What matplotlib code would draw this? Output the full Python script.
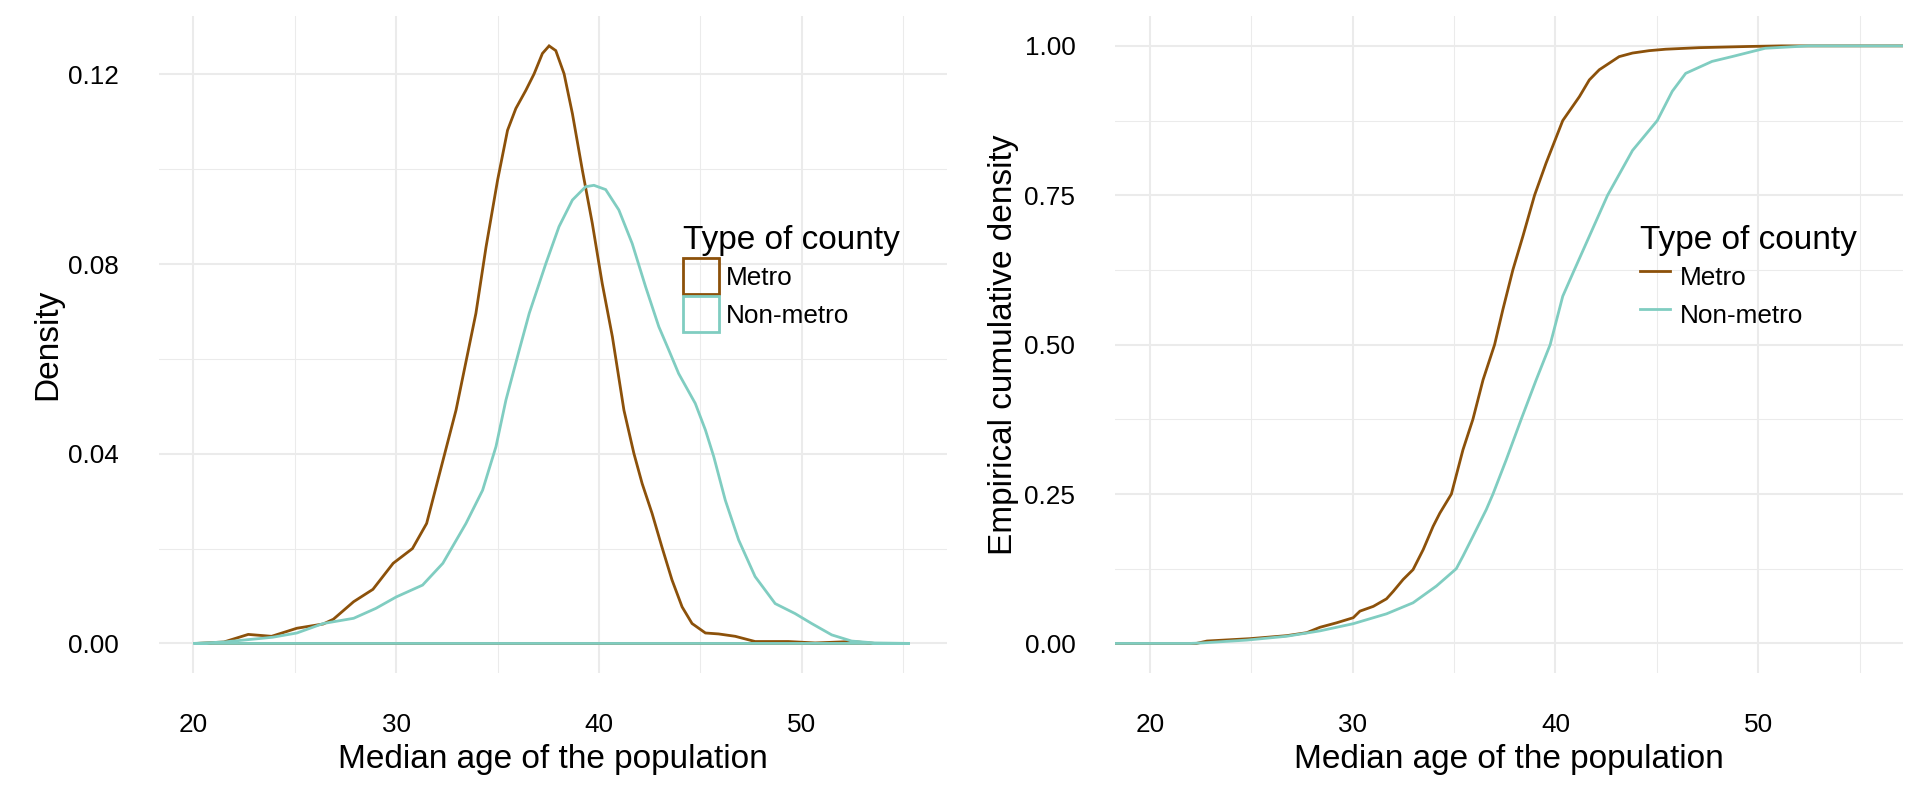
import matplotlib
matplotlib.use("Agg")
import matplotlib.pyplot as plt
from matplotlib.lines import Line2D
from matplotlib.patches import Patch

plt.rcParams["font.family"] = ["Liberation Sans", "DejaVu Sans"]

# colours for the two county types
metro_color = "#8c510a"
nonmetro_color = "#80cdc1"
groups = ["Metro", "Non-metro"]

# kernel density of median age
metro_age = [20.15, 21.5, 22.7, 23.85, 25.1, 26.4, 26.9, 27.9, 28.85, 29.85, 30.8,
             31.5, 32.1, 32.95, 33.93, 34.43, 35.0, 35.49, 35.9, 36.39, 36.8, 37.21,
             37.54, 37.87, 38.28, 38.69, 39.18, 39.67, 40.16, 40.66, 41.23, 41.72,
             42.13, 42.62, 43.1, 43.6, 44.1, 44.59, 45.25, 45.9, 46.72, 47.7, 49.34,
             50.66, 52.46, 53.6]
metro_dens = [0.0, 0.0003, 0.0019, 0.0015, 0.0032, 0.0041, 0.0051, 0.0088, 0.0114,
              0.0169, 0.0200, 0.0253, 0.0352, 0.0492, 0.0696, 0.0836, 0.0977, 0.1082,
              0.1128, 0.1166, 0.1201, 0.1244, 0.126, 0.125, 0.1201, 0.1117, 0.0998,
              0.0886, 0.0759, 0.0647, 0.0492, 0.0401, 0.0337, 0.0274, 0.0204, 0.0134,
              0.0077, 0.0042, 0.0022, 0.002, 0.0015, 0.0004, 0.0004, 0.0001, 0.0004, 0.0]

nonmetro_age = [20.0, 21.5, 23.9, 25.1, 26.4, 27.9, 29.0, 30.0, 31.3, 32.3, 33.44,
                34.26, 34.92, 35.41, 36.07, 36.56, 37.38, 38.03, 38.69, 39.34, 39.75,
                40.33, 40.98, 41.64, 42.3, 42.95, 43.44, 43.93, 44.75, 45.25, 45.66,
                46.23, 46.89, 47.7, 48.69, 49.67, 50.49, 51.48, 52.46, 53.6, 55.33]
nonmetro_dens = [0.0, 0.0003, 0.0013, 0.0022, 0.0042, 0.0053, 0.0074, 0.0098, 0.0123,
                 0.0169, 0.0253, 0.0323, 0.0415, 0.0513, 0.0619, 0.0696, 0.0801, 0.0879,
                 0.0935, 0.0963, 0.0966, 0.0957, 0.0914, 0.0843, 0.0752, 0.0668, 0.0619,
                 0.0569, 0.0506, 0.045, 0.0394, 0.0302, 0.0218, 0.0141, 0.0084, 0.0063,
                 0.0042, 0.0018, 0.0005, 0.0001, 0.0]

# empirical CDF
metro_ecdf_age = [22.3, 22.82, 24.95, 26.75, 27.74, 28.39, 29.21, 30.03, 30.36, 31.02,
                  31.67, 32.0, 32.49, 32.98, 33.48, 33.97, 34.3, 34.87, 35.44, 35.93,
                  36.43, 37.0, 37.41, 37.9, 38.4, 38.97, 39.54, 40.36, 41.18, 41.67,
                  42.16, 42.65, 43.14, 43.8, 44.62, 45.43, 47.07, 49.52, 51.16]
metro_ecdf = [0.0, 0.004, 0.008, 0.013, 0.018, 0.027, 0.0345, 0.043, 0.054, 0.062,
              0.0746, 0.087, 0.107, 0.1235, 0.157, 0.196, 0.218, 0.25, 0.324, 0.375,
              0.441, 0.5, 0.559, 0.625, 0.682, 0.75, 0.804, 0.875, 0.915, 0.943,
              0.96, 0.971, 0.982, 0.988, 0.992, 0.9944, 0.997, 0.999, 1.0]

nonmetro_ecdf_age = [22.0, 22.66, 24.79, 26.75, 28.39, 30.03, 31.67, 32.98, 34.13,
                     35.11, 35.44, 35.93, 36.59, 36.92, 37.57, 38.31, 39.05, 39.74,
                     40.36, 40.93, 42.57, 43.8, 45.02, 45.76, 46.42, 47.72, 48.7,
                     50.34, 52.47]
nonmetro_ecdf = [0.0, 0.001, 0.0056, 0.012, 0.021, 0.033, 0.0495, 0.068, 0.096,
                 0.125, 0.146, 0.179, 0.224, 0.25, 0.307, 0.375, 0.441, 0.5,
                 0.581, 0.625, 0.75, 0.825, 0.875, 0.924, 0.954, 0.974, 0.982,
                 0.996, 1.0]

x_ticks = [20, 30, 40, 50]
x_minor = [25, 35, 45, 55]
dens_ticks = [0.0, 0.04, 0.08, 0.12]
dens_minor = [0.02, 0.06, 0.10]
ecdf_ticks = [0.0, 0.25, 0.50, 0.75, 1.00]
ecdf_minor = [0.125, 0.375, 0.625, 0.875]

XLIM = (18.3, 57.15)
TICK_PT = 18.8
TITLE_PT = 24
LW = 2.0


def style_axes(ax, yticks, yminor, ylim, yfmt):
    ax.set_xlim(*XLIM)
    ax.set_ylim(*ylim)
    ax.set_xticks(x_ticks)
    ax.set_xticks(x_minor, minor=True)
    ax.set_yticks(yticks)
    ax.set_yticks(yminor, minor=True)
    ax.set_yticklabels([yfmt.format(v) for v in yticks])
    for s in ax.spines.values():
        s.set_visible(False)
    ax.grid(which="major", color="#ebebeb", linewidth=1.5)
    ax.grid(which="minor", color="#ebebeb", linewidth=0.75)
    ax.set_axisbelow(True)
    ax.tick_params(which="both", length=0, pad=28.8, labelsize=TICK_PT, labelcolor="black")
    ax.set_xlabel("Median age of the population", fontsize=TITLE_PT)
    ax.xaxis.set_label_coords(0.5, -0.1076)


fig = plt.figure(figsize=(19.2, 8), dpi=100)
ax1 = fig.add_axes([159 / 1920, 126.7 / 800, 787.7 / 1920, 657.3 / 800])
ax2 = fig.add_axes([1115.3 / 1920, 126.7 / 800, 788 / 1920, 657.3 / 800])

# left: density outlines (closed polygons like geom_density)
ax1.fill(metro_age, metro_dens, facecolor="none", edgecolor=metro_color, linewidth=LW)
ax1.fill(nonmetro_age, nonmetro_dens, facecolor="none", edgecolor=nonmetro_color, linewidth=LW)
style_axes(ax1, dens_ticks, dens_minor, (-0.0063, 0.1323), "{:.2f}")
ax1.set_ylabel("Density", fontsize=TITLE_PT)
ax1.yaxis.set_label_coords(-0.122, 0.5)

# right: ECDF, padded out to the panel edges
for xs, ys, c in [(metro_ecdf_age, metro_ecdf, metro_color),
                  (nonmetro_ecdf_age, nonmetro_ecdf, nonmetro_color)]:
    ax2.plot([XLIM[0]] + xs + [XLIM[1]], [ys[0]] + ys + [ys[-1]], color=c, linewidth=LW)
style_axes(ax2, ecdf_ticks, ecdf_minor, (-0.05, 1.05), "{:.2f}")
ax2.set_ylabel("Empirical cumulative density", fontsize=TITLE_PT)
ax2.yaxis.set_label_coords(-0.122, 0.5)

leg_kw = dict(
    title="Type of county", loc="upper left", bbox_transform=fig.transFigure,
    frameon=False, borderpad=0, borderaxespad=0, fontsize=TICK_PT,
    title_fontsize=TITLE_PT, handleheight=1.745, labelspacing=0.08, alignment="left",
)
box_handles = [Patch(facecolor="none", edgecolor=c, linewidth=LW)
               for c in (metro_color, nonmetro_color)]
ax1.legend(box_handles, groups, bbox_to_anchor=(682.7 / 1920, 1 - 225 / 800),
           handlelength=1.38, handletextpad=0.28, **leg_kw)

line_handles = [Line2D([], [], color=c, linewidth=LW) for c in (metro_color, nonmetro_color)]
ax2.legend(line_handles, groups, bbox_to_anchor=(1640 / 1920, 1 - 225 / 800),
           handlelength=1.15, handletextpad=0.38, **leg_kw)

fig.savefig("out.png", dpi=100, facecolor="white")
